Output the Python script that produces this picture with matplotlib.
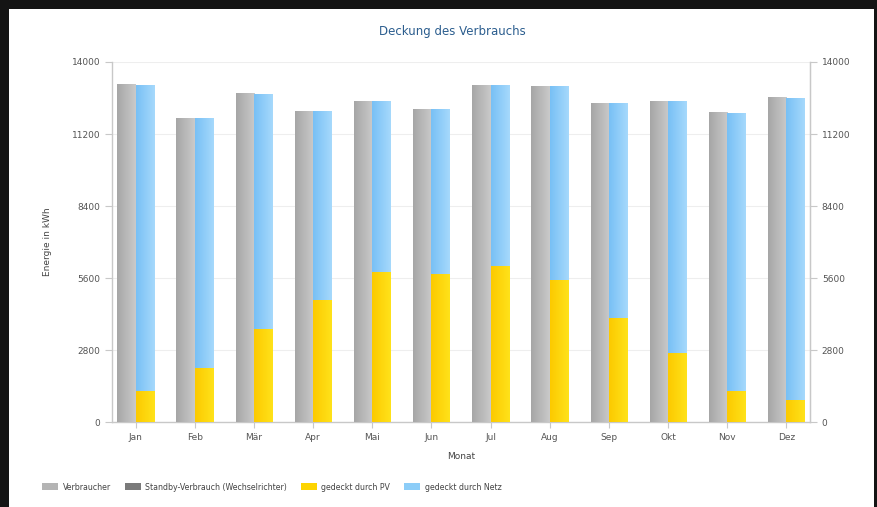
import numpy as np
import matplotlib
matplotlib.use("Agg")
import matplotlib.pyplot as plt
from matplotlib.patches import Rectangle, Patch
from matplotlib.colors import LinearSegmentedColormap

# Monthly energy balance (kWh)
months = ["Jan", "Feb", "Mär", "Apr", "Mai", "Jun",
          "Jul", "Aug", "Sep", "Okt", "Nov", "Dez"]
verbraucher = [13100, 11790, 12770, 12070, 12470, 12150,
               13080, 13050, 12380, 12460, 12030, 12590]
standby = [0, 0, 0, 0, 0, 0, 0, 0, 0, 0, 0, 0]
gedeckt_pv = [1220, 2100, 3640, 4750, 5830, 5770,
              6070, 5530, 4040, 2680, 1230, 880]
gedeckt_netz = [v - p for v, p in zip(verbraucher, gedeckt_pv)]

y_ticks = [0, 2800, 5600, 8400, 11200, 14000]

c_gray = ("#a6a6a6", "#cacaca")
c_dark = "#7a7a7a"
c_pv = ("#fcca00", "#ffe21a")
c_netz = ("#78c0f5", "#a6d9fc")
text_col = "#555555"
axis_col = "#c8c8c8"


def fill_gradient(ax, patches, colors):
    """Paint each bar with a left-to-right colour gradient."""
    cmap = LinearSegmentedColormap.from_list("g", colors)
    grad = np.linspace(0, 1, 64).reshape(1, -1)
    for p in patches:
        x0, y0 = p.get_x(), p.get_y()
        w, h = p.get_width(), p.get_height()
        if h <= 0:
            continue
        p.set_alpha(0)
        ax.imshow(grad, cmap=cmap, aspect="auto", interpolation="bilinear",
                  extent=(x0, x0 + w, y0, y0 + h), zorder=3)


fig = plt.figure(figsize=(8.78, 5.07), dpi=100, facecolor="#141414")
# white panel inside the dark frame
fig.patches.append(Rectangle((9 / 878, 0), 865 / 878, 1 - 9 / 507,
                             transform=fig.transFigure, facecolor="white",
                             edgecolor="none", zorder=-1))

ax = fig.add_axes([112 / 878, 1 - 422.3 / 507, 698 / 878, 360.3 / 507])
ax.set_facecolor("white")

x = np.arange(len(months))
w = 0.31
b_gray = ax.bar(x - w / 2, verbraucher, w, color=c_gray[0], zorder=3)
b_sb = ax.bar(x - w / 2, standby, w, bottom=verbraucher, color=c_dark, zorder=3)
b_pv = ax.bar(x + w / 2, gedeckt_pv, w, color=c_pv[0], zorder=3)
b_netz = ax.bar(x + w / 2, gedeckt_netz, w, bottom=gedeckt_pv, color=c_netz[0], zorder=3)

fill_gradient(ax, b_gray, c_gray)
fill_gradient(ax, b_pv, c_pv)
fill_gradient(ax, b_netz, c_netz)

ax.set_xlim(-0.4, 11.4)
ax.set_ylim(0, 14000)
ax.set_yticks(y_ticks)
ax.set_yticklabels([str(t) for t in y_ticks])
ax.set_xticks(x)
ax.set_xticklabels(months)
ax.grid(axis="y", color="#eeeeee", linewidth=0.8, zorder=0)

ax.spines["top"].set_visible(False)
for s in ["left", "right", "bottom"]:
    ax.spines[s].set_color(axis_col)
    ax.spines[s].set_linewidth(1.0)

ax.tick_params(axis="both", colors=axis_col, labelcolor=text_col,
               labelsize=6.5, length=5, width=0.8)
ax.tick_params(axis="x", length=4, pad=4)

ax2 = ax.twinx()
ax2.set_ylim(0, 14000)
ax2.set_yticks(y_ticks)
ax2.set_yticklabels([str(t) for t in y_ticks])
ax2.tick_params(axis="y", colors=axis_col, labelcolor=text_col,
                labelsize=6.5, length=5, width=0.8)
for s in ["top", "left", "bottom"]:
    ax2.spines[s].set_visible(False)
ax2.spines["right"].set_color(axis_col)

ax.set_ylabel("Energie in kWh", fontsize=6.5, color="#444444", labelpad=14)
ax.set_xlabel("Monat", fontsize=6.5, color="#444444", labelpad=7)

fig.text(452 / 878, 1 - 31 / 507, "Deckung des Verbrauchs", ha="center",
         va="center", fontsize=8.5, color="#2b5d8e")

handles = [Patch(facecolor="#b4b4b4", label="Verbraucher"),
           Patch(facecolor=c_dark, label="Standby-Verbrauch (Wechselrichter)"),
           Patch(facecolor="#fdd400", label="gedeckt durch PV"),
           Patch(facecolor="#8ccdf8", label="gedeckt durch Netz")]
leg = fig.legend(handles=handles, ncol=4, loc="center left",
                 bbox_to_anchor=(35 / 878, 1 - 487 / 507), frameon=False,
                 fontsize=5.7, handlelength=2.0, handleheight=1.0,
                 columnspacing=1.75, handletextpad=0.6)
for t in leg.get_texts():
    t.set_color("#444444")

fig.savefig("out.png", dpi=100, facecolor=fig.get_facecolor())
